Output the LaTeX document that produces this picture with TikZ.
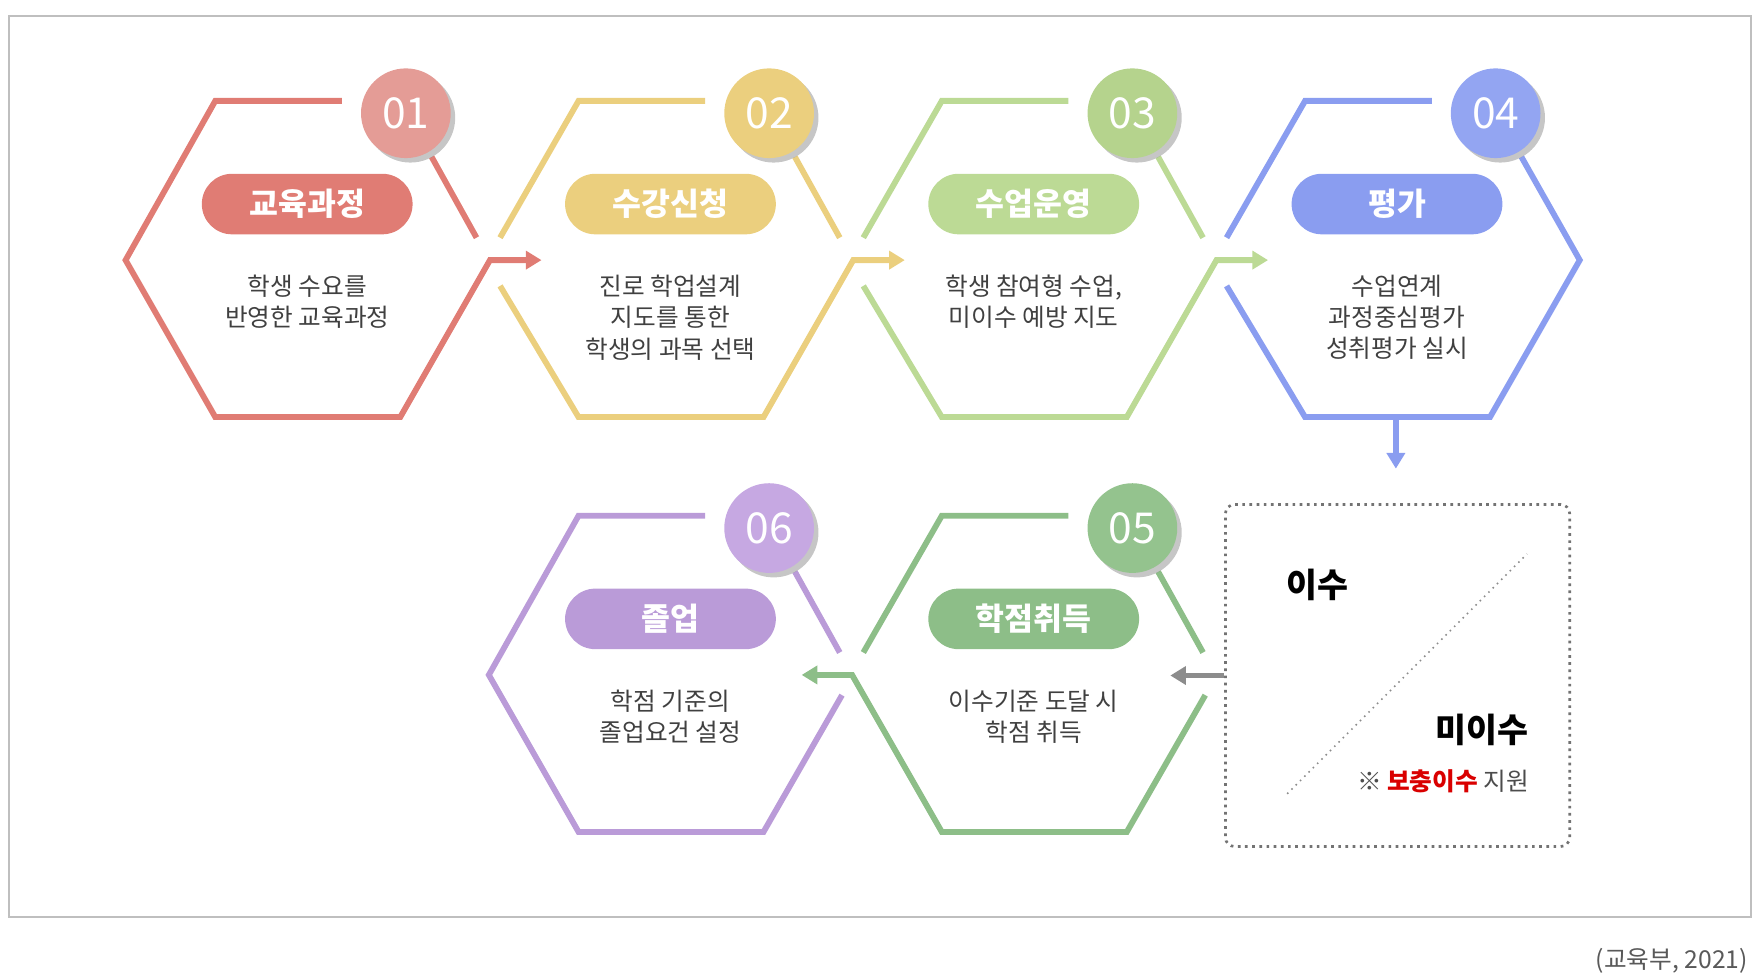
\documentclass[tikz,border=0pt]{standalone}
\usepackage{fontspec}
\setmainfont{Noto Sans CJK KR}
\usetikzlibrary{arrows.meta,shadows}
\definecolor{cR}{HTML}{E07C74}\definecolor{cRc}{HTML}{E49C96}
\definecolor{cY}{HTML}{EBCF7E}\definecolor{cYc}{HTML}{EBCF7E}
\definecolor{cG}{HTML}{BCDA95}\definecolor{cGc}{HTML}{B5D38D}
\definecolor{cB}{HTML}{8A9DF0}\definecolor{cBc}{HTML}{93A5F2}
\definecolor{cD}{HTML}{8DBE88}\definecolor{cDc}{HTML}{94C38E}
\definecolor{cP}{HTML}{BA9BD8}\definecolor{cPc}{HTML}{C6A8E2}
\tikzset{
 hexline/.style={line width=2.6pt,line join=miter},
 arr/.style={-{Triangle[length=7pt,width=8pt]}},
 num/.style={circle,minimum size=40pt,inner sep=0pt,text=white,font=\fontsize{19}{19}\selectfont,drop shadow={shadow xshift=2pt,shadow yshift=-2pt,opacity=0.45}},
 pill/.style={rounded corners=13.5pt,minimum width=94pt,minimum height=27pt,inner sep=0pt,text=white,font=\fontsize{14}{14}\selectfont\bfseries},
 body/.style={align=center,text=black!75,font=\fontsize{11}{14}\selectfont,anchor=north},
}
\newcommand{\HexDeco}[6]{% cx cy color circlecolor num title body
 \node[num,fill=#4] (n#5) at (#1+88,#2-131) {#5};
 \node[pill,fill=#3] (p#5) at (#1,#2-50) {#6};
}
\begin{document}
\begin{tikzpicture}[x=0.5pt,y=-0.5pt]
\useasboundingbox (0,0) rectangle (1568,872);
\draw[black!25,line width=0.8pt] (8,14) rectangle (1562,818);
\node[anchor=east,text=black!65,font=\fontsize{11}{11}\selectfont] (cap) at (1566,857) {(교육부, 2021)};
% hex 1
\begin{scope}[shift={(274,232)}]
\draw[hexline,cR,arr] (31,-142)--(-82,-142)--(-162,0)--(-82,140)--(83,140)--(163,0)--(209,0);
\draw[hexline,cR] (111,-92)--(151,-20);
\end{scope}
% hex 2,3
\foreach \cx/\c in {598/cY,922/cG}{
\begin{scope}[shift={(\cx,232)}]
\draw[hexline,\c] (31,-142)--(-82,-142)--(-152,-20);
\draw[hexline,\c,arr] (-152,23)--(-82,140)--(83,140)--(163,0)--(209,0);
\draw[hexline,\c] (111,-92)--(151,-20);
\end{scope}}
% hex 4
\begin{scope}[shift={(1246,232)}]
\draw[hexline,cB] (31,-142)--(-82,-142)--(-152,-20);
\draw[hexline,cB] (-152,23)--(-82,140)--(83,140)--(163,0)--(111,-92);
\draw[hexline,cB,arr] (-1,140)--(-1,186);
\end{scope}
% hex 5
\begin{scope}[shift={(922,602)}]
\draw[hexline,cD] (31,-142)--(-82,-142)--(-152,-20);
\draw[hexline,cD,arr] (153,18)--(83,140)--(-82,140)--(-162,0)--(-207,0);
\draw[hexline,cD] (111,-92)--(151,-20);
\end{scope}
% hex 6
\begin{scope}[shift={(598,602)}]
\draw[hexline,cP] (31,-142)--(-82,-142)--(-162,0)--(-82,140)--(83,140)--(153,18);
\draw[hexline,cP] (111,-92)--(151,-20);
\end{scope}
\HexDeco{274}{232}{cR}{cRc}{01}{교육과정}
\HexDeco{598}{232}{cY}{cYc}{02}{수강신청}
\HexDeco{922}{232}{cG}{cGc}{03}{수업운영}
\HexDeco{1246}{232}{cB}{cBc}{04}{평가}
\HexDeco{922}{602}{cD}{cDc}{05}{학점취득}
\HexDeco{598}{602}{cP}{cPc}{06}{졸업}
\node[body] (b1) at (274,238) {학생 수요를\\반영한 교육과정};
\node[body] (b2) at (598,238) {진로 학업설계\\지도를 통한\\학생의 과목 선택};
\node[body] (b3) at (922,238) {학생 참여형 수업,\\미이수 예방 지도};
\node[body] (b4) at (1246,238) {수업연계\\과정중심평가\\성취평가 실시};
\node[body] (b5) at (922,608) {이수기준 도달 시\\학점 취득};
\node[body] (b6) at (598,608) {학점 기준의\\졸업요건 설정};
% box
\node[draw=black!55,dotted,line width=1.2pt,rounded corners=4pt,minimum width=153.5pt,minimum height=152.5pt,inner sep=0pt] (box) at (1246.5,602.5) {};
\draw[black!45,dotted,line width=0.7pt] (1148,708)--(1362,494);
\node[font=\fontsize{15}{15}\selectfont\bfseries] (isu) at (1175,522) {이수};
\node[font=\fontsize{15}{15}\selectfont\bfseries] (misu) at (1322,651) {미이수};
\node[font=\fontsize{11}{11}\selectfont,text=black!70] (sup) at (1287,697) {※ {\bfseries\color{red!85!black}보충이수} 지원};
\draw[hexline,black!45,arr] (box.west) -- ++(-48,0);
\end{tikzpicture}
\end{document}
